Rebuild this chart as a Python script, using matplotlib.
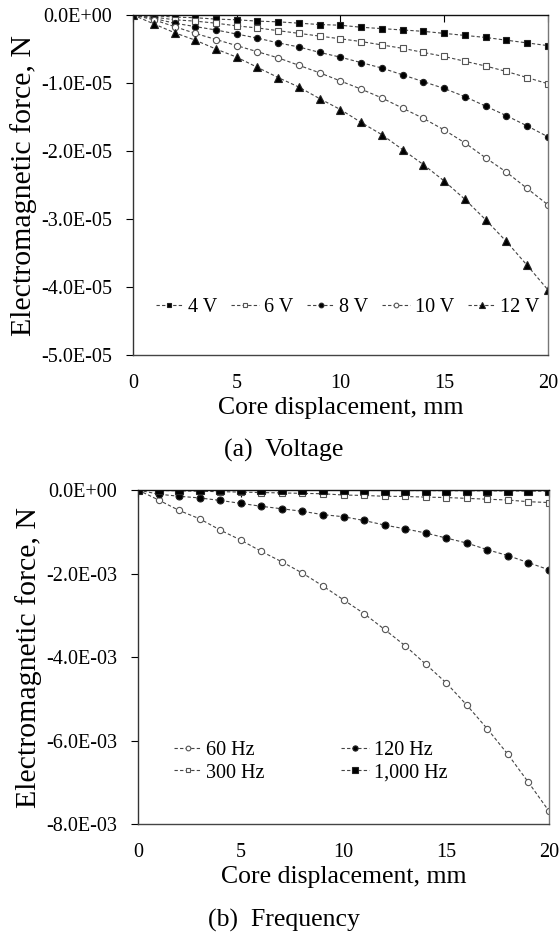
import matplotlib
matplotlib.use('Agg')
import matplotlib.pyplot as plt
from matplotlib.ticker import FuncFormatter, MultipleLocator

plt.rcParams['font.family'] = ['Liberation Serif', 'DejaVu Serif']

# core displacement, mm
x = list(range(0, 21))

# (a) voltage, force in N (read as units of 1e-5)
v_labels = ['4 V', '6 V', '8 V', '10 V', '12 V']
f_4v = [0, -0.01, -0.03, -0.04, -0.06, -0.07, -0.09, -0.10, -0.12, -0.14, -0.15,
        -0.18, -0.20, -0.22, -0.24, -0.27, -0.30, -0.33, -0.37, -0.41, -0.45]
f_6v = [0, -0.03, -0.07, -0.09, -0.12, -0.16, -0.19, -0.23, -0.27, -0.31, -0.35,
        -0.39, -0.44, -0.49, -0.55, -0.61, -0.68, -0.75, -0.83, -0.92, -1.01]
f_8v = [0, -0.05, -0.12, -0.17, -0.22, -0.28, -0.34, -0.41, -0.47, -0.55, -0.62,
        -0.70, -0.78, -0.88, -0.98, -1.08, -1.20, -1.34, -1.48, -1.63, -1.79]
f_10v = [0, -0.07, -0.17, -0.27, -0.36, -0.45, -0.54, -0.63, -0.74, -0.85, -0.97,
         -1.09, -1.22, -1.37, -1.52, -1.69, -1.88, -2.10, -2.31, -2.55, -2.79]
f_12v = [0, -0.13, -0.26, -0.37, -0.50, -0.62, -0.77, -0.92, -1.06, -1.23, -1.39,
         -1.58, -1.76, -1.98, -2.20, -2.44, -2.71, -3.01, -3.33, -3.68, -4.04]

# (b) frequency, force in N (read as units of 1e-3)
f_labels = ['60 Hz', '120 Hz', '300 Hz', '1,000 Hz']
f_60 = [0, -0.24, -0.49, -0.69, -0.96, -1.20, -1.47, -1.72, -1.99, -2.30, -2.63,
        -2.96, -3.34, -3.73, -4.17, -4.62, -5.15, -5.72, -6.33, -7.00, -7.69]
f_120 = [0, -0.10, -0.15, -0.19, -0.25, -0.32, -0.39, -0.45, -0.51, -0.59, -0.64,
         -0.73, -0.84, -0.93, -1.03, -1.15, -1.27, -1.43, -1.57, -1.74, -1.91]
f_300 = [0, -0.01, -0.02, -0.03, -0.04, -0.05, -0.06, -0.07, -0.08, -0.09, -0.12,
         -0.13, -0.15, -0.155, -0.17, -0.18, -0.20, -0.22, -0.24, -0.28, -0.30]
f_1000 = [0, -0.001, -0.002, -0.003, -0.004, -0.005, -0.006, -0.007, -0.008, -0.009, -0.010,
          -0.011, -0.012, -0.013, -0.014, -0.016, -0.018, -0.020, -0.022, -0.025, -0.028]


def sci(v, pos):
    if abs(v) < 1e-12:
        return '0.0E+00'
    return f'{v:.1E}'


def style_axes(ax, ymin, ystep):
    ax.set_xlim(0, 20)
    ax.set_ylim(ymin, 0)
    ax.xaxis.set_major_locator(MultipleLocator(5))
    ax.yaxis.set_major_locator(MultipleLocator(ystep))
    ax.yaxis.set_major_formatter(FuncFormatter(sci))
    ax.tick_params(axis='x', top=True, bottom=False, labeltop=False, labelbottom=True,
                   direction='in', length=5, width=0.8, labelsize=14.5, pad=13.5)
    ax.tick_params(axis='y', direction='out', length=5, width=0.8, labelsize=14.5, pad=10)
    ax.spines['left'].set_color('#333333')
    ax.spines['top'].set_color('#111111')
    ax.spines['right'].set_color('#777777')
    ax.spines['bottom'].set_color('#444444')
    for s in ax.spines.values():
        s.set_linewidth(1.0)
    ax.set_xlabel('Core displacement, mm', fontsize=18.5, labelpad=3)
    ax.set_ylabel('Electromagnetic force, N', fontsize=21.5, labelpad=3)


line_kw = dict(color='#444444', linestyle=(0, (3, 2)), linewidth=0.8)

fig = plt.figure(figsize=(5.59, 9.33), dpi=100)

# ---- (a) Voltage ----
ax1 = fig.add_axes([0.238, 0.6195, 0.742, 0.3644])
m_a = [('s', 'black', 4.5), ('s', 'white', 4.5), ('o', 'black', 4.5),
       ('o', 'white', 4.5), ('^', 'black', 6)]
series_a = [f_4v, f_6v, f_8v, f_10v, f_12v]
for lab, ys, (mk, fc, ms) in zip(v_labels, series_a, m_a):
    ax1.plot(x, [v * 1e-5 for v in ys], marker=mk, markerfacecolor=fc,
             markeredgecolor='#222222' if fc == 'black' else '#555555',
             markeredgewidth=0.8, markersize=ms, label=lab, **line_kw)
style_axes(ax1, -5e-5, 1e-5)
ax1.legend(loc='center left', bbox_to_anchor=(0.055, 0.141), ncol=5, frameon=False,
           fontsize=14.5, handlelength=1.35, handletextpad=0.25, columnspacing=0.7,
           borderpad=0, borderaxespad=0, markerscale=0.75)
fig.text(0.508, 0.5167, '(a)  Voltage', ha='center', va='center', fontsize=18.5)

# ---- (b) Frequency ----
ax2 = fig.add_axes([0.247, 0.1168, 0.735, 0.358])
m_b = [('o', 'white', 4.5), ('o', 'black', 5), ('s', 'white', 4.5), ('s', 'black', 5.5)]
series_b = [f_60, f_120, f_300, f_1000]
handles = []
for lab, ys, (mk, fc, ms) in zip(f_labels, series_b, m_b):
    h, = ax2.plot(x, [v * 1e-3 for v in ys], marker=mk, markerfacecolor=fc,
                  markeredgecolor='#222222' if fc == 'black' else '#555555',
                  markeredgewidth=0.8, markersize=ms, label=lab, **line_kw)
    handles.append(h)
style_axes(ax2, -8e-3, 2e-3)
order = [0, 2, 1, 3]
ax2.legend([handles[i] for i in order], [f_labels[i] for i in order],
           loc='center left', bbox_to_anchor=(0.088, 0.186), ncol=2, frameon=False,
           fontsize=14.5, handlelength=1.35, handletextpad=0.25, columnspacing=3.8,
           labelspacing=0.15, borderpad=0, borderaxespad=0, markerscale=0.75)
fig.text(0.508, 0.0139, '(b)  Frequency', ha='center', va='center', fontsize=18.5)

fig.savefig('out.png', dpi=100)
